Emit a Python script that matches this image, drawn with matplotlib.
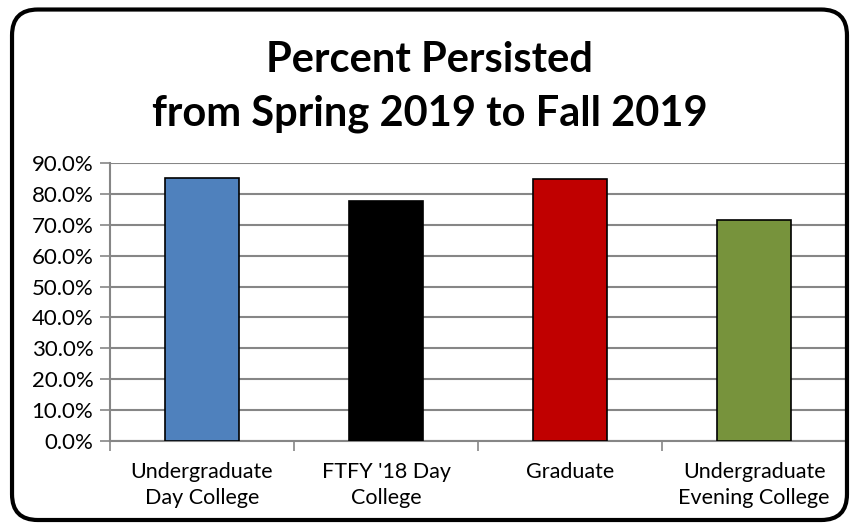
import numpy as np
import matplotlib.pyplot as plt
from matplotlib.patches import FancyBboxPatch
from matplotlib.ticker import FuncFormatter, FixedLocator

categories = ["Undergraduate\nDay College", "FTFY '18 Day\nCollege", "Graduate", "Undergraduate\nEvening College"]
values = [0.853, 0.778, 0.847, 0.717]
colors = ["#4F81BD", "#000000", "#C00000", "#77933C"]
yticks = np.arange(0, 0.91, 0.1)

plt.rcParams['font.family'] = ['Lato', 'DejaVu Sans']

fig = plt.figure(figsize=(8.59, 5.29), dpi=100)

# rounded outer frame
frame = FancyBboxPatch((0.014, 0.017), 0.972, 0.965, boxstyle="round,pad=0,rounding_size=0.03",
                       transform=fig.transFigure, fill=False, edgecolor="black", linewidth=3,
                       mutation_aspect=859 / 529)
fig.patches.append(frame)

fig.text(0.5, 0.887, "Percent Persisted", ha="center", va="center",
         fontsize=30, fontweight="bold")
fig.text(0.5, 0.785, "from Spring 2019 to Fall 2019", ha="center", va="center",
         fontsize=30, fontweight="bold")

ax = fig.add_axes([0.128, 0.1664, 0.857, 0.5255])
x = np.arange(len(categories))
ax.bar(x, values, width=0.40, color=colors, edgecolor="black", linewidth=1.2, zorder=3)

ax.set_xlim(-0.5, len(categories) - 0.5)
ax.set_ylim(0, 0.9)
ax.set_yticks(yticks)
ax.yaxis.set_major_formatter(FuncFormatter(lambda v, p: f"{v * 100:.1f}%"))
ax.yaxis.grid(True, color="#868686", linewidth=1.5, zorder=0)

ax.set_xticks(x)
ax.set_xticklabels(categories, fontsize=15.5, linespacing=1.4)
ax.tick_params(axis="x", length=0, pad=15)
ax.xaxis.set_minor_locator(FixedLocator(np.arange(-0.5, len(categories), 1.0)))
ax.tick_params(axis="x", which="minor", length=7, color="#868686", width=1.2)
ax.tick_params(axis="y", length=7, color="#868686", width=1.2, labelsize=16, pad=5)

for s in ["top", "right"]:
    ax.spines[s].set_visible(False)
for s in ["left", "bottom"]:
    ax.spines[s].set_color("#868686")
    ax.spines[s].set_linewidth(1.5)

fig.savefig("out.png", dpi=100)
